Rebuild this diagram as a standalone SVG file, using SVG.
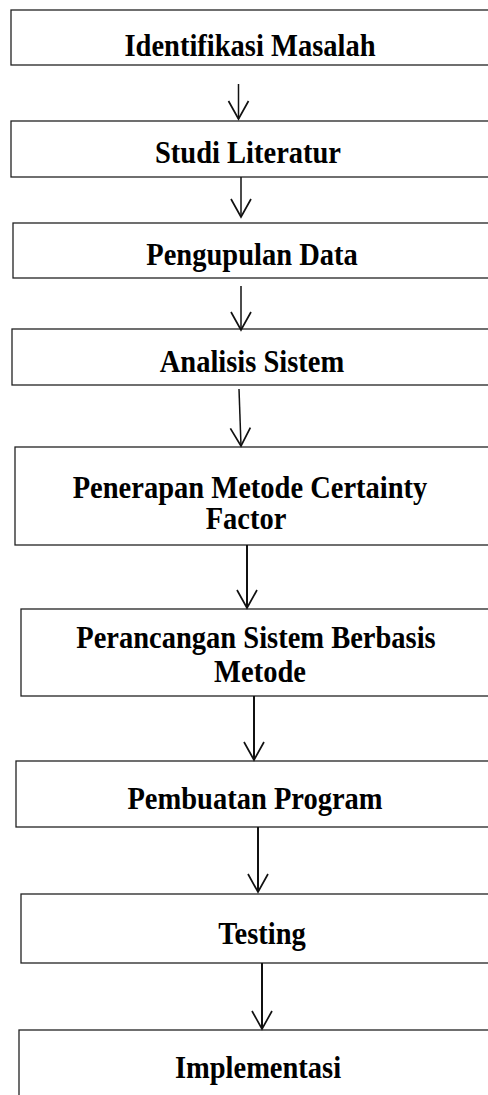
<svg xmlns="http://www.w3.org/2000/svg" width="488" height="1095" viewBox="0 0 488 1095">
<style>
.box{fill:#fff;stroke:#222;stroke-width:1.3}
.lbl{font-family:"Liberation Serif","Times New Roman",serif;font-weight:bold;font-size:31px;fill:#000;text-anchor:middle}
.c{fill:none;stroke:#111;stroke-width:1.5}
.c2{fill:none;stroke:#111;stroke-width:2}
</style>
<defs>
<marker id="ah" markerUnits="userSpaceOnUse" viewBox="-20 -12 22 24" refX="0" refY="0" markerWidth="22" markerHeight="24" orient="auto">
<path d="M-18,-10 L0,0 L-18,10" fill="none" stroke="#111" stroke-width="1.7"/>
</marker>
</defs>
<rect width="488" height="1095" fill="#fff"/>
<g id="n1"><rect class="box" x="11" y="10" width="500" height="55"/><text class="lbl" transform="translate(250,56) scale(0.92,1)">Identifikasi Masalah</text></g>
<g id="n2"><rect class="box" x="11" y="121" width="500" height="56"/><text class="lbl" transform="translate(248,163) scale(0.92,1)">Studi Literatur</text></g>
<g id="n3"><rect class="box" x="13" y="223" width="500" height="55"/><text class="lbl" transform="translate(252,265) scale(0.92,1)">Pengupulan Data</text></g>
<g id="n4"><rect class="box" x="12" y="329" width="500" height="56"/><text class="lbl" transform="translate(252,372) scale(0.92,1)">Analisis Sistem</text></g>
<g id="n5"><rect class="box" x="15" y="447" width="500" height="98"/><text class="lbl" transform="translate(250,498) scale(0.92,1)">Penerapan Metode Certainty</text><text class="lbl" transform="translate(246,529) scale(0.92,1)">Factor</text></g>
<g id="n6"><rect class="box" x="21" y="609" width="500" height="87"/><text class="lbl" transform="translate(256,648) scale(0.92,1)">Perancangan Sistem Berbasis</text><text class="lbl" transform="translate(260,682) scale(0.92,1)">Metode</text></g>
<g id="n7"><rect class="box" x="16" y="761" width="500" height="66"/><text class="lbl" transform="translate(255,809) scale(0.92,1)">Pembuatan Program</text></g>
<g id="n8"><rect class="box" x="21" y="894" width="500" height="69"/><text class="lbl" transform="translate(262,944) scale(0.92,1)">Testing</text></g>
<g id="n9"><rect class="box" x="19" y="1030" width="500" height="100"/><text class="lbl" transform="translate(258,1078) scale(0.92,1)">Implementasi</text></g>
<g id="connectors">
<line class="c" x1="238.5" y1="84" x2="238.5" y2="119" marker-end="url(#ah)"/>
<line class="c" x1="241" y1="177" x2="241" y2="217" marker-end="url(#ah)"/>
<line class="c" x1="241" y1="286" x2="241" y2="330" marker-end="url(#ah)"/>
<line class="c" x1="239" y1="389" x2="241" y2="446" marker-end="url(#ah)"/>
<line class="c2" x1="247" y1="545" x2="247" y2="608" marker-end="url(#ah)"/>
<line class="c2" x1="254" y1="696" x2="254" y2="760" marker-end="url(#ah)"/>
<line class="c2" x1="258" y1="827" x2="258" y2="892" marker-end="url(#ah)"/>
<line class="c2" x1="262" y1="963" x2="262" y2="1029" marker-end="url(#ah)"/>
</g>
</svg>
